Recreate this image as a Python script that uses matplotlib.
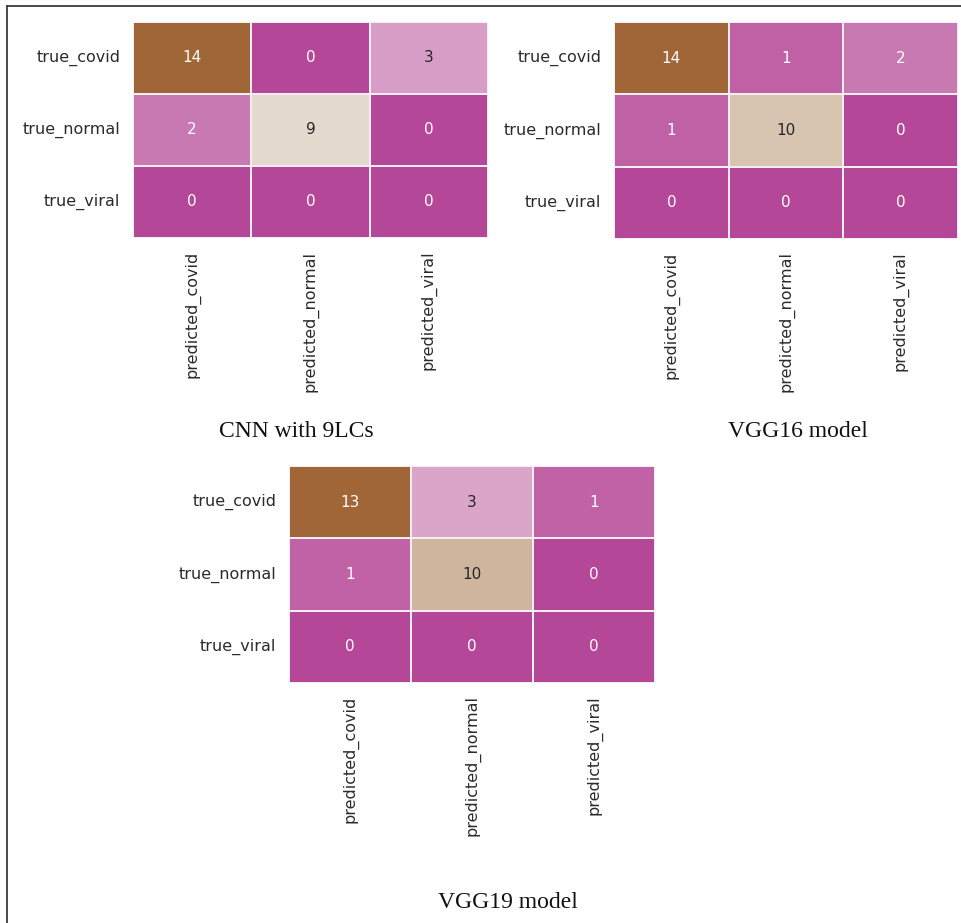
import numpy as np
import matplotlib
matplotlib.use("Agg")
import matplotlib.pyplot as plt
from matplotlib.colors import LinearSegmentedColormap
from matplotlib.lines import Line2D
import seaborn as sns

# Confusion matrices (rows: true class, columns: predicted class)
row_labels = ["true_covid", "true_normal", "true_viral"]
col_labels = ["predicted_covid", "predicted_normal", "predicted_viral"]

cnn_9lcs = [[14, 0, 3],
            [2, 9, 0],
            [0, 0, 0]]
vgg16 = [[14, 1, 2],
         [1, 10, 0],
         [0, 0, 0]]
vgg19 = [[13, 3, 1],
         [1, 10, 0],
         [0, 0, 0]]

titles = ["CNN with 9LCs", "VGG16 model", "VGG19 model"]

# Magenta -> cream -> brown diverging map
cmap = LinearSegmentedColormap.from_list(
    "magenta_brown",
    [(0.00, "#b54799"),
     (0.07, "#c060a5"),
     (0.14, "#c878b2"),
     (0.22, "#daa1c8"),
     (0.42, "#ead3e0"),
     (0.62, "#e8e0d6"),
     (0.72, "#d6c3b0"),
     (0.78, "#cfb29a"),
     (1.00, "#a06638")])

fig = plt.figure(figsize=(9.62, 9.23), dpi=100)
W, H = 962.0, 923.0


def px_axes(x0, y0, x1, y1):
    return fig.add_axes([x0 / W, 1 - y1 / H, (x1 - x0) / W, (y1 - y0) / H])


panels = [
    (cnn_9lcs, px_axes(133, 22, 488, 238), (296, 432)),
    (vgg16, px_axes(614, 22, 958, 239), (798, 432)),
    (vgg19, px_axes(289, 466, 655, 683), (508, 902)),
]

for (mat, ax, (tx, ty)), title in zip(panels, titles):
    data = np.array(mat)
    sns.heatmap(data, ax=ax, cmap=cmap, annot=True, fmt="d", cbar=False,
                linewidths=1.2, linecolor="#f6edf2",
                annot_kws={"fontsize": 11},
                xticklabels=col_labels, yticklabels=row_labels)
    ax.tick_params(axis="both", length=0, pad=9, labelcolor="#2b2b2b")
    ax.set_yticklabels(row_labels, rotation=0, fontsize=11.5)
    ax.set_xticklabels(col_labels, rotation=90, fontsize=11.5)
    fig.text(tx / W, 1 - ty / H, title, ha="center", va="center",
             fontsize=17, family="Liberation Serif", color="#111111")

# Outer frame (left and top edges)
fig.add_artist(Line2D([7.5 / W, 7.5 / W], [0, 1 - 6 / H],
                      transform=fig.transFigure, color="#3a3a3a", lw=1.3))
fig.add_artist(Line2D([7.5 / W, 1], [1 - 6 / H, 1 - 6 / H],
                      transform=fig.transFigure, color="#3a3a3a", lw=1.3))

fig.savefig("out.png", dpi=100, facecolor="white")
